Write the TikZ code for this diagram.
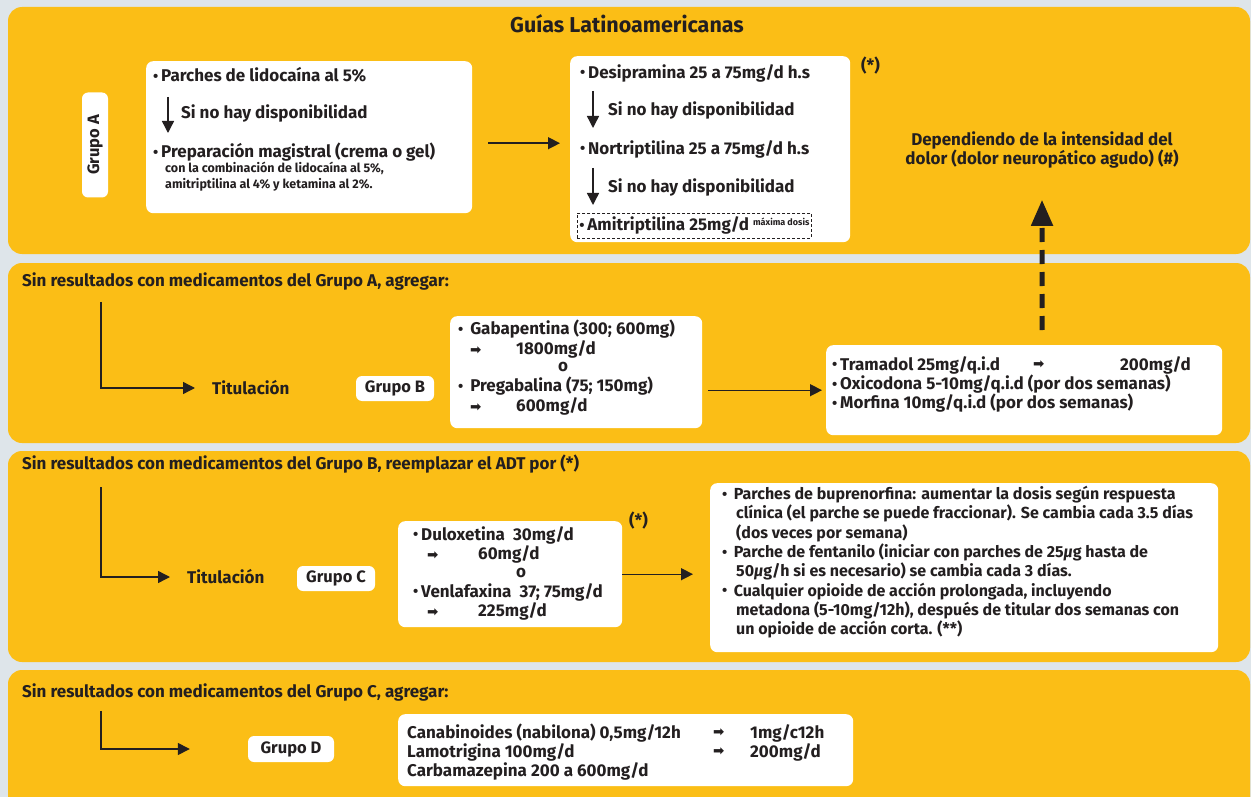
\documentclass[tikz,border=0pt]{standalone}
\usepackage{fontspec}
\setmainfont{Fira Sans}
\newfontfamily\symfont{DejaVu Sans}
\usetikzlibrary{arrows.meta,positioning}

\definecolor{amarillo}{RGB}{251,190,22}
\definecolor{fondo}{RGB}{222,229,234}
\definecolor{tinta}{RGB}{35,31,32}

\newcommand{\pto}{\raisebox{0.3pt}{\fontsize{15}{15}\selectfont\textbullet}\,}
\newcommand{\flecha}{{\symfont\fontsize{13.5}{13.5}\selectfont ➡}}

\tikzset{
  panel/.style={fill=amarillo, rounded corners=14pt},
  wbox/.style={fill=white, rounded corners=7pt, inner sep=0pt, anchor=north west},
  grp/.style={fill=white, rounded corners=6pt, inner sep=0pt, font=\fontsize{16.5}{19}\selectfont\bfseries},
  txt/.style={anchor=west, inner sep=0pt},
  small/.style={font=\fontsize{12.5}{16}\selectfont\bfseries},
  arr/.style={draw=tinta, line width=1.4pt, -{Triangle[length=12pt,width=12pt]}},
  dasharr/.style={draw=tinta, line width=5pt, dash pattern=on 14pt off 8pt, -{Triangle[length=26pt,width=21pt]}},
}

\begin{document}
\begin{tikzpicture}[x=1pt, y=-1pt, font=\fontsize{17}{19}\selectfont\bfseries,
                    every node/.append style={text=tinta}]
\useasboundingbox (0,0) rectangle (1251,797);
\fill[fondo] (0,0) rectangle (1251,797);

% franjas
\fill[panel] (8,7) rectangle (1250,254);
\fill[panel] (8,263) rectangle (1250,443);
\fill[panel] (8,451) rectangle (1250,662);
\fill[panel] (8,670) rectangle (1250,820);

% grupo A
\node[font=\fontsize{21.5}{24}\selectfont\bfseries] (titulo) at (627,24) {Guías Latinoamericanas};
\node[grp, rotate=90, minimum width=105, minimum height=26] (grA) at (95,145) {Grupo A};

\node[wbox, minimum width=326, minimum height=152] (lido) at (146,61) {};
\node[txt] (lido1) at (153,75) {\pto Parches de lidocaína al 5\%};
\node[txt] (lido2) at (181,113) {Si no hay disponibilidad};
\draw[arr] ([xshift=-13pt,yshift=16pt]lido2.west) -- ([xshift=-13pt,yshift=-20pt]lido2.west);
\node[txt] (lido3) at (153,152) {\pto Preparación magistral (crema o gel)};
\node[txt, small, align=left] (lido4) at (165,177) {con la combinación de lidocaína al 5\%,\\amitriptilina al 4\% y ketamina al 2\%.};

\node[wbox, minimum width=280, minimum height=186] (desi) at (570,56) {};
\draw[arr, shorten <=16pt, shorten >=10pt] ([yshift=-6pt]lido.east) -- ([yshift=6pt]desi.west);
\node[txt] (desi1) at (580,73) {\pto Desipramina 25 a 75mg/d h.s};
\node[txt] (desi2) at (608,110) {Si no hay disponibilidad};
\draw[arr] ([xshift=-15pt,yshift=19pt]desi2.west) -- ([xshift=-15pt,yshift=-18pt]desi2.west);
\node[txt] (desi3) at (580,149) {\pto Nortriptilina 25 a 75mg/d h.s};
\node[txt] (desi4) at (608,187) {Si no hay disponibilidad};
\draw[arr] ([xshift=-15pt,yshift=19pt]desi4.west) -- ([xshift=-15pt,yshift=-18pt]desi4.west);
\node[txt, draw=tinta, line width=0.8pt, dash pattern=on 3pt off 2pt, inner xsep=2pt, minimum height=25] (amitri) at (577,225.5)
  {\pto Amitriptilina 25mg/d {\fontsize{9}{9}\selectfont\raisebox{5pt}{máxima dosis}}};
\node[txt] (ast1) at (861,66) {(*)};

\node[align=center] (dep) at (1042,150) {Dependiendo de la intensidad del\\[0pt]dolor (dolor neuropático agudo) (\#)};

% grupo B
\node[txt] (encB) at (22,281) {Sin resultados con medicamentos del Grupo A, agregar:};
\node[txt] (titB) at (212,388) {Titulación};
\draw[arr] ([xshift=79pt,yshift=-12pt]encB.south west) |- ([xshift=-17pt]titB.west);
\node[grp, minimum width=78, minimum height=25] (grB) at (395,388.5) {Grupo B};

\node[wbox, minimum width=252, minimum height=112] (gaba) at (450,316) {};
\node[txt] (gaba1) at (458,329) {\pto\ Gabapentina (300; 600mg)};
\node[txt] (gaba2) at (470,349) {\makebox[46pt][l]{\flecha}1800mg/d};
\node (gaba3) at (563,367) {o};
\node[txt] (gaba4) at (458,386) {\pto\ Pregabalina (75; 150mg)};
\node[txt] (gaba5) at (470,406) {\makebox[46pt][l]{\flecha}600mg/d};

\node[wbox, minimum width=396, minimum height=90] (tram) at (826,345) {};
\draw[arr, shorten <=6pt, shorten >=4pt] (gaba.east |- tram.west) -- (tram.west);
\node[txt] (tram1) at (832,365) {\pto Tramadol 25mg/q.i.d};
\node[txt] (tram1a) at (1033,365) {\flecha};
\node[txt] (tram1b) at (1120,365) {200mg/d};
\node[txt] (tram2) at (832,384) {\pto Oxicodona 5-10mg/q.i.d (por dos semanas)};
\node[txt] (tram3) at (832,403) {\pto Morfina 10mg/q.i.d (por dos semanas)};

\draw[dasharr] ([xshift=18pt,yshift=15pt]tram.north) -- ([yshift=-28pt]dep.south);

% grupo C
\node[txt] (encC) at (22,464) {Sin resultados con medicamentos del Grupo B, reemplazar el ADT por (*)};
\node[txt] (titC) at (187,577) {Titulación};
\draw[arr] ([xshift=79pt,yshift=-14pt]encC.south west) |- ([xshift=-17pt]titC.west);
\node[grp, minimum width=78, minimum height=25] (grC) at (336,578.5) {Grupo C};

\node[wbox, minimum width=224, minimum height=106] (dulo) at (398,521) {};
\node[txt] (dulo1) at (413,535) {\pto Duloxetina\ \ 30mg/d};
\node[txt] (dulo2) at (427,554) {\makebox[51pt][l]{\flecha}60mg/d};
\node (dulo3) at (521,573) {o};
\node[txt] (dulo4) at (413,592) {\pto Venlafaxina\ \ 37; 75mg/d};
\node[txt] (dulo5) at (427,611) {\makebox[51pt][l]{\flecha}225mg/d};
\node[txt] (ast2) at (629,521) {(*)};

\node[wbox, minimum width=508, minimum height=169] (bupre) at (710,483) {};
\draw[arr, shorten >=17pt] (dulo.east) -- (dulo.east -| bupre.west);
\node[txt, anchor=north west, align=left, font=\fontsize{16}{19.3}\selectfont\bfseries] (bupre1) at (722,486)
  {\pto\ Parches de buprenorfina: aumentar la dosis según respuesta\\
   \hspace*{14pt}clínica (el parche se puede fraccionar). Se cambia cada 3.5 días\\
   \hspace*{14pt}(dos veces por semana)\\
   \pto\ Parche de fentanilo (iniciar con parches de 25{\itshape µ}g hasta de\\
   \hspace*{14pt}50{\itshape µ}g/h si es necesario) se cambia cada 3 días.\\
   \pto\ Cualquier opioide de acción prolongada, incluyendo\\
   \hspace*{14pt}metadona (5-10mg/12h), después de titular dos semanas con\\
   \hspace*{14pt}un opioide de acción corta. (**)};

% grupo D
\node[txt] (encD) at (22,692) {Sin resultados con medicamentos del Grupo C, agregar:};
\node[grp, minimum width=86, minimum height=26] (grD) at (291,749) {Grupo D};
\draw[arr] ([xshift=79pt,yshift=-10pt]encD.south west) |- ([xshift=-58pt]grD.west);

\node[wbox, minimum width=455, minimum height=72] (cana) at (398,714) {};
\node[txt] (cana1) at (407,733) {Canabinoides (nabilona) 0,5mg/12h};
\node[txt] (cana1a) at (713,733) {\flecha};
\node[txt] (cana1b) at (750,733) {1mg/c12h};
\node[txt] (cana2) at (407,752) {Lamotrigina 100mg/d};
\node[txt] (cana2a) at (713,752) {\flecha};
\node[txt] (cana2b) at (750,752) {200mg/d};
\node[txt] (cana3) at (407,771) {Carbamazepina 200 a 600mg/d};
\end{tikzpicture}
\end{document}
